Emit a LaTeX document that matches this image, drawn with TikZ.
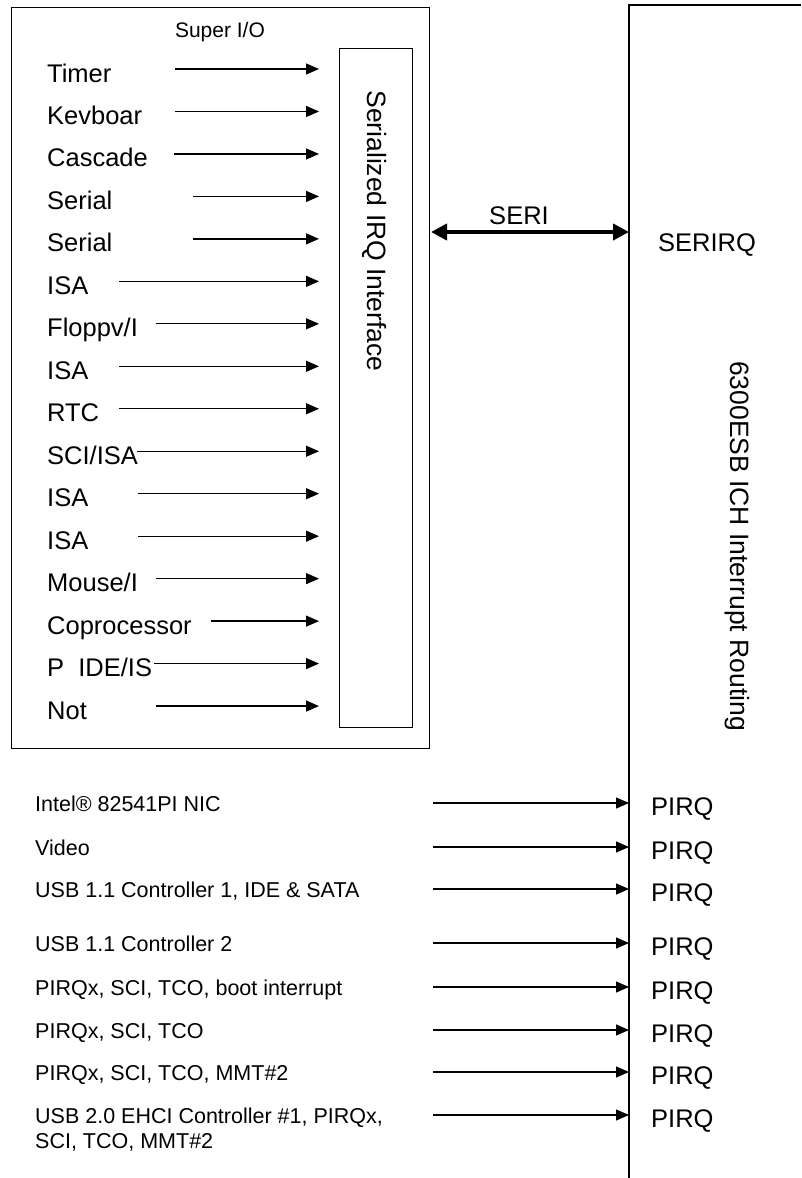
\documentclass[tikz,border=0pt]{standalone}
\usepackage{fontspec}
\setmainfont{Liberation Sans}
\usetikzlibrary{arrows.meta}
\begin{document}
\begin{tikzpicture}[x=1pt,y=-1pt,
  biglab/.style={anchor=base west, inner sep=0pt, font=\fontsize{25.5}{30}\selectfont},
  smalllab/.style={anchor=base west, inner sep=0pt, align=left, font=\fontsize{21.5}{25}\selectfont},
  sig/.style={-{Triangle[length=13pt,width=11pt]}, line width=1.3pt},
  boxline/.style={draw, line width=1.2pt, anchor=north west, inner sep=0pt},
  vtext/.style={rotate=-90, inner sep=0pt, font=\fontsize{26.5}{30}\selectfont},
]
\useasboundingbox (0,0) rectangle (801,1178);

% Super I/O box
\node[boxline, minimum width=418pt, minimum height=741pt] (sio) at (11,7) {};
\node[anchor=base, inner sep=0pt, font=\fontsize{21}{25}\selectfont] (siotitle) at (220,37) {Super I/O};
\node[boxline, minimum width=73pt, minimum height=679pt] (irq) at (339,48) {};
\node[vtext] (irqtext) at (375,231) {Serialized IRQ Interface};

% ICH box (open)
\coordinate (ichTR) at (801,5);
\coordinate (ichTL) at (629,5);
\coordinate (ichB) at (629,1178);
\draw[line width=1.2pt] (ichTR) -- (ichTL) -- (ichB);
\node[vtext, font=\fontsize{26.5}{30}\selectfont] (ichtext) at (737,546) {6300ESB ICH Interrupt Routing};

% Super I/O inputs
\foreach \i/\txt/\sx in {0/Timer/175, 1/Kevboar/175, 2/Cascade/174, 3/Serial/193, 4/Serial/193,
  5/ISA/119, 6/Floppv\slash I/156, 7/ISA/119, 8/RTC/119, 9/SCI\slash ISA/137, 10/ISA/138,
  11/ISA/138, 12/Mouse\slash I/156, 13/Coprocessor/211, 14/P\ \ IDE\slash IS/154, 15/Not/156}{
  \pgfmathsetmacro{\yy}{69+42.47*\i}
  \node[biglab] (in\i) at (47,\yy+13) {\txt};
  \coordinate (s\i) at (\sx,\yy);
  \coordinate (e\i) at (319,\yy);
  \draw[sig] (s\i) -- (e\i);
}

% SERIRQ link
\coordinate (seriL) at (431,232);
\coordinate (seriR) at (629,232);
\draw[{Triangle[length=16pt,width=16pt]}-{Triangle[length=16pt,width=16pt]}, line width=4pt] (seriL) -- (seriR);
\node[anchor=center, inner sep=0pt, font=\fontsize{25.5}{30}\selectfont] (seri) at (519,216) {SERI};
\node[biglab] (serirq) at (658,251) {SERIRQ};

% PCI interrupt sources
\foreach \j/\txt/\ay/\bl in {1/{Intel® 82541PI NIC}/803/811, 2/Video/847/855, 3/{USB 1.1 Controller 1, IDE \& SATA}/889/897,
  4/USB 1.1 Controller 2/943/951, 5/{PIRQx, SCI, TCO, boot interrupt}/987/995, 6/{PIRQx, SCI, TCO}/1030/1038,
  7/{PIRQx, SCI, TCO, MMT\#2}/1072/1080, 8/{USB 2.0 EHCI Controller \#1, PIRQx,\\SCI, TCO, MMT\#2}/1115/1148}{
  \node[smalllab] (src\j) at (35,\bl) {\txt};
  \coordinate (ps\j) at (433,\ay);
  \coordinate (pe\j) at (629,\ay);
  \draw[sig] (ps\j) -- (pe\j);
  \node[biglab] (pirq\j) at (651,\ay+12) {PIRQ};
}
\end{tikzpicture}
\end{document}
